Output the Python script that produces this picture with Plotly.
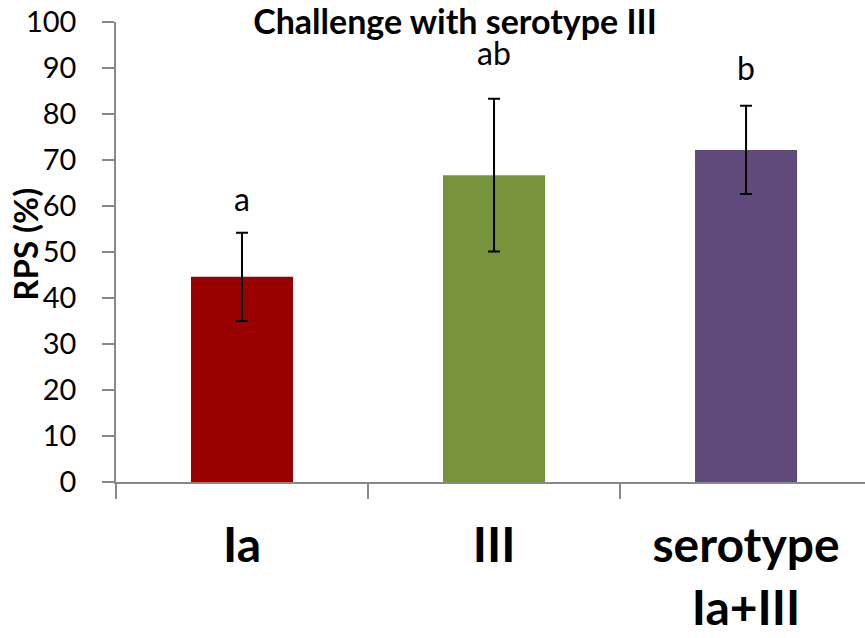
import plotly.graph_objects as go

# RPS per challenge group (mean and error), with significance letters
groups = ["Ia", "III", "serotype<br>Ia+III"]
rps_mean = [44.6, 66.7, 72.2]
rps_err = [9.6, 16.6, 9.6]
sig_letters = ["a", "ab", "b"]
bar_colors = ["#990000", "#77933C", "#604A7B"]

FONT = "Lato"
AXIS_GREY = "#898989"

fig = go.Figure()
fig.add_trace(go.Bar(
    x=groups,
    y=rps_mean,
    marker=dict(color=bar_colors, line=dict(width=0)),
    error_y=dict(type="data", array=rps_err, visible=True,
                 color="black", thickness=2, width=6),
    showlegend=False,
))

# significance letters sit above the upper error whisker
letter_shift = [13, 25, 17]
for g, m, e, lab, s in zip(groups, rps_mean, rps_err, sig_letters, letter_shift):
    fig.add_annotation(x=g, y=m + e, text=lab, showarrow=False,
                       xref="x", yref="y", yanchor="bottom", yshift=s,
                       font=dict(family=FONT, size=32, color="black"))

# rotated y-axis title overlapping the tick labels
fig.add_annotation(text="RPS (%)", textangle=-90, showarrow=False,
                   xref="paper", yref="paper", x=-0.1215, y=0.518,
                   xanchor="center", yanchor="middle",
                   font=dict(family=FONT, size=33, color="black", weight="bold"))

fig.update_layout(
    width=865, height=638, autosize=False,
    margin=dict(l=116, r=0, t=22, b=156),
    paper_bgcolor="white", plot_bgcolor="white",
    bargap=0.595,
    title=dict(text="Challenge with serotype III",
               x=0.526, xanchor="center", y=0.9647, yanchor="middle",
               font=dict(family=FONT, size=34, color="black", weight="bold")),
    xaxis=dict(
        type="category", range=[-0.5, 2.472], automargin=False,
        tickson="boundaries", ticks="outside", ticklen=15, tickwidth=1.5,
        tickcolor=AXIS_GREY, showline=True, linecolor=AXIS_GREY, linewidth=1.5,
        showgrid=False, zeroline=False,
        tickfont=dict(family=FONT, size=48, color="black", weight="bold"),
        ticklabelstandoff=21,
    ),
    yaxis=dict(
        range=[0, 100], dtick=10, tick0=0, automargin=False,
        ticks="outside", ticklen=12, tickwidth=1.5, tickcolor=AXIS_GREY,
        showline=True, linecolor=AXIS_GREY, linewidth=1.5,
        showgrid=False, zeroline=False,
        tickfont=dict(family=FONT, size=29, color="black"),
        ticklabelstandoff=20,
    ),
)

fig.write_html("out.html")
